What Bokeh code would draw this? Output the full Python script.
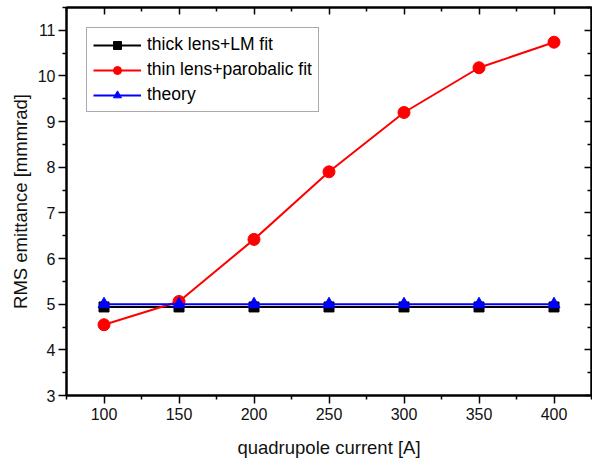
from bokeh.plotting import figure
from bokeh.models import LinearAxis, Range1d, FixedTicker, Legend
from bokeh.embed import file_html
from bokeh.resources import INLINE

# Data
current = [100, 150, 200, 250, 300, 350, 400]
thick_lens = [4.94, 4.94, 4.94, 4.94, 4.94, 4.94, 4.94]
thin_lens = [4.55, 5.06, 6.42, 7.90, 9.20, 10.18, 10.74]
theory = [5.0, 5.0, 5.0, 5.0, 5.0, 5.0, 5.0]

x_ticks = [100, 150, 200, 250, 300, 350, 400]
y_ticks = [3, 4, 5, 6, 7, 8, 9, 10, 11]
x_minor = [75, 125, 175, 225, 275, 325, 375, 425]
y_minor = [3.5, 4.5, 5.5, 6.5, 7.5, 8.5, 9.5, 10.5, 11.5]

FONT = "Liberation Sans"

p = figure(width=592, height=460, output_backend="svg", toolbar_location=None,
           x_range=Range1d(75, 425), y_range=Range1d(3, 11.5),
           min_border_left=66, min_border_bottom=65, min_border_top=7, min_border_right=1)

p.xgrid.visible = False
p.ygrid.visible = False
p.outline_line_color = "black"
p.outline_line_width = 2
p.background_fill_color = "white"
p.border_fill_color = "white"

def style_axis(ax, inside=False, labels=True, ticks=None):
    ax.axis_line_color = "black"
    ax.axis_line_width = 2
    ax.major_tick_line_color = "black"
    ax.minor_tick_line_color = "black"
    ax.major_tick_line_width = 1.5
    ax.minor_tick_line_width = 1.5
    if inside:
        ax.major_tick_in = 7
        ax.major_tick_out = 0
        ax.minor_tick_in = 4
        ax.minor_tick_out = 0
    else:
        ax.major_tick_in = 0
        ax.major_tick_out = 8
        ax.minor_tick_in = 0
        ax.minor_tick_out = 4
    if labels:
        ax.major_label_text_font = FONT
        ax.major_label_text_font_size = "16px"
        ax.major_label_text_color = "#111111"
        ax.axis_label_text_font = FONT
        ax.axis_label_text_font_size = "18.5px"
        ax.axis_label_text_font_style = "normal"
        ax.axis_label_text_color = "#111111"
    else:
        ax.major_label_overrides = {t: "" for t in ticks}
        ax.major_label_text_font_size = "1px"
        ax.major_label_standoff = 0

p.xaxis.ticker = FixedTicker(ticks=x_ticks, minor_ticks=x_minor)
p.yaxis.ticker = FixedTicker(ticks=y_ticks, minor_ticks=y_minor)
style_axis(p.xaxis[0])
style_axis(p.yaxis[0])
p.xaxis.axis_label = "quadrupole current [A]"
p.yaxis.axis_label = "RMS emittance [mmmrad]"
p.xaxis.major_label_standoff = 4
p.yaxis.major_label_standoff = 3
p.xaxis.axis_label_standoff = 14
p.yaxis.axis_label_standoff = 4

top = LinearAxis(ticker=FixedTicker(ticks=x_ticks, minor_ticks=x_minor))
style_axis(top, inside=True, labels=False, ticks=x_ticks)
p.add_layout(top, "above")
right = LinearAxis(ticker=FixedTicker(ticks=y_ticks, minor_ticks=y_minor))
style_axis(right, inside=True, labels=False, ticks=y_ticks)
p.add_layout(right, "right")

r1l = p.line(current, thick_lens, line_color="black", line_width=2)
r1m = p.scatter(current, thick_lens, marker="square", size=10, fill_color="black", line_color="black")
r2l = p.line(current, thin_lens, line_color="red", line_width=2)
r2m = p.scatter(current, thin_lens, marker="circle", size=12, fill_color="red", line_color="red")
r3l = p.line(current, theory, line_color="blue", line_width=2)
r3m = p.scatter(current, theory, marker="triangle", size=12, fill_color="blue", line_color="blue")

legend = Legend(items=[("thick lens+LM fit", [r1l, r1m]),
                       ("thin lens+parobalic fit", [r2l, r2m]),
                       ("theory", [r3l, r3m])],
                location="top_left")
legend.margin = 20
legend.padding = 6
legend.spacing = 4
legend.glyph_width = 48
legend.glyph_height = 20
legend.label_height = 20
legend.label_standoff = 6
legend.label_text_font = FONT
legend.label_text_font_size = "17.5px"
legend.label_text_color = "black"
legend.border_line_color = "#555555"
legend.border_line_width = 1
legend.background_fill_alpha = 1
p.add_layout(legend, "center")

open("out.html", "w").write(file_html(p, INLINE))
